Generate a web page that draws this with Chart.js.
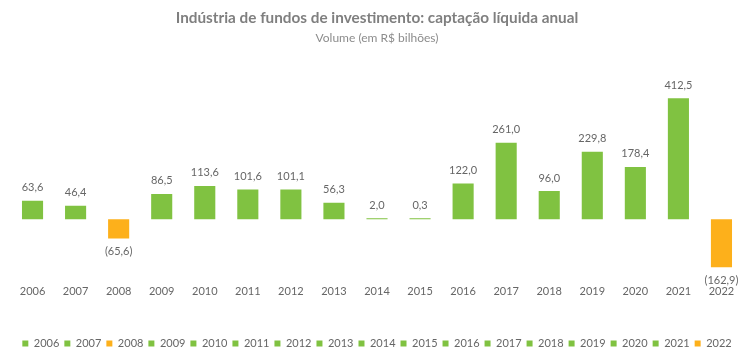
<!DOCTYPE html>
<html><head><meta charset="utf-8">
<script src="https://cdn.jsdelivr.net/npm/chart.js@4"></script>
<style>html,body{margin:0;padding:0;background:#fff}#wrap{width:750px;height:355px}</style>
</head><body><div id="wrap"><canvas id="c"></canvas></div>
<script>
const categories = ['2006','2007','2008','2009','2010','2011','2012','2013','2014','2015','2016','2017','2018','2019','2020','2021','2022'];
const values = [63.6, 46.4, -65.6, 86.5, 113.6, 101.6, 101.1, 56.3, 2.0, 0.3, 122.0, 261.0, 96.0, 229.8, 178.4, 412.5, -162.9];
const titleText = 'Indústria de fundos de investimento: captação líquida anual';
const subtitleText = 'Volume (em R$ bilhões)';

const GREEN = '#80c241', ORANGE = '#fdb01b';
const colors = values.map(v => v < 0 ? ORANGE : GREEN);
const FONT = 'Lato, "Open Sans", sans-serif';

function fmt(v){
  const s = Math.abs(v).toFixed(1).replace('.', ',');
  return v < 0 ? '(' + s + ')' : s;
}

const labelPlugin = {
  id: 'barLabels',
  afterDatasetsDraw(chart){
    const ctx = chart.ctx;
    const meta = chart.getDatasetMeta(0);
    const zero = chart.scales.y.getPixelForValue(0);
    ctx.save();
    ctx.font = '11px ' + FONT;
    ctx.fillStyle = '#666666';
    ctx.textAlign = 'center';
    ctx.textBaseline = 'middle';
    meta.data.forEach((bar, i) => {
      const v = values[i];
      const y = v < 0 ? Math.max(bar.y, zero + 1) + 13 : Math.min(bar.y, zero - 1) - 13;
      ctx.fillText(fmt(v), bar.x, y);
    });
    ctx.restore();
  }
};

new Chart(document.getElementById('c'), {
  type: 'bar',
  data: {
    labels: categories,
    datasets: [{ data: values, backgroundColor: colors, barPercentage: 0.49, categoryPercentage: 1, minBarLength: 1 }]
  },
  options: {
    responsive: true,
    maintainAspectRatio: false,
    animation: false,
    layout: { padding: { left: 11, right: 7, top: 0, bottom: -4 } },
    scales: {
      x: {
        grid: { display: false },
        border: { display: false },
        ticks: { color: '#666666', font: { family: FONT, size: 11 }, padding: -3, maxRotation: 0, autoSkip: false },
        afterFit(scale){ scale.height += 38; }
      },
      y: { display: false, min: -206, max: 546 }
    },
    plugins: {
      title: { display: true, text: titleText, color: '#7f7f7f', font: { family: FONT, size: 15.3, weight: 'bold' }, padding: { top: 9, bottom: 2 } },
      subtitle: { display: true, text: subtitleText, color: '#8c8c8c', font: { family: FONT, size: 12 }, padding: { top: 1.4, bottom: 13.8 } },
      legend: {
        position: 'bottom',
        labels: {
          color: '#666666', font: { family: FONT, size: 11 }, boxWidth: 6, boxHeight: 6, padding: 5,
          generateLabels(chart){
            return categories.map((c, i) => ({ text: c, fillStyle: colors[i], strokeStyle: colors[i], lineWidth: 0, hidden: false, index: i, datasetIndex: 0, fontColor: '#666666' }));
          }
        },
        onClick(){}
      },
      tooltip: { enabled: false }
    }
  },
  plugins: [labelPlugin]
});
</script></body></html>
